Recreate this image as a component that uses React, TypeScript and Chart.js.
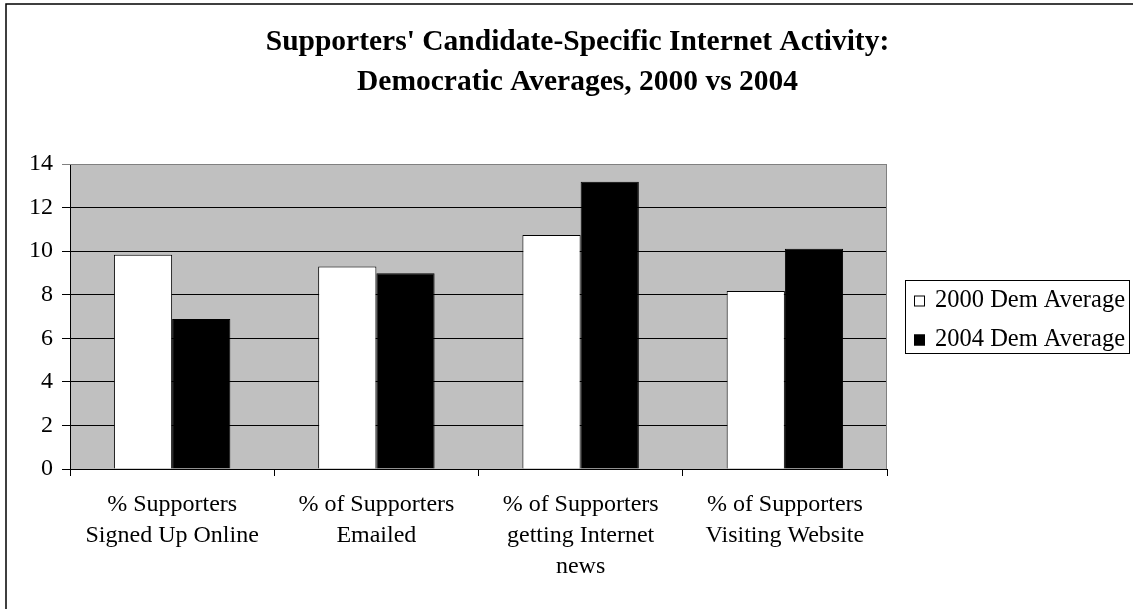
import React, { useEffect, useRef } from "react";
import { Chart, registerables } from "chart.js";

Chart.register(...registerables);

const titleLines = [
  "Supporters' Candidate-Specific Internet Activity:",
  "Democratic Averages, 2000 vs 2004",
];
const categories = [
  ["% Supporters", "Signed Up Online"],
  ["% of Supporters", "Emailed"],
  ["% of Supporters", "getting Internet", "news"],
  ["% of Supporters", "Visiting Website"],
];
const seriesLabels = ["2000 Dem Average", "2004 Dem Average"];
const dem2000 = [9.84, 9.29, 10.74, 8.17];
const dem2004 = [6.89, 8.98, 13.19, 10.11];
const yMin = 0;
const yMax = 14;
const yStep = 2;

const FONT = '"Liberation Serif", "Times New Roman", serif';
const seriesFill = ["#FFFFFF", "#000000"];

const decorPlugin = {
  id: "decor",
  afterLayout(chart: any) {
    const t = chart.titleBlock;
    if (t) {
      t.left = 22;
      t.right = chart.width;
    }
  },
  beforeDraw(chart: any) {
    const { ctx, chartArea: a } = chart;
    ctx.save();
    ctx.fillStyle = "#FFFFFF";
    ctx.fillRect(0, 0, chart.width, chart.height);
    ctx.fillStyle = "#C0C0C0";
    ctx.fillRect(a.left, a.top, a.right - a.left, a.bottom - a.top);
    ctx.strokeStyle = "#000000";
    ctx.lineWidth = 1.5;
    ctx.beginPath();
    ctx.moveTo(6, chart.height);
    ctx.lineTo(6, 4);
    ctx.lineTo(chart.width, 4);
    ctx.stroke();
    ctx.restore();
  },
  beforeDatasetsDraw(chart: any) {
    const { ctx, chartArea: a } = chart;
    ctx.save();
    ctx.strokeStyle = "#808080";
    ctx.lineWidth = 1;
    ctx.beginPath();
    ctx.moveTo(a.left, a.top + 0.5);
    ctx.lineTo(a.right - 0.5, a.top + 0.5);
    ctx.lineTo(a.right - 0.5, a.bottom);
    ctx.stroke();
    ctx.restore();
  },
  afterDraw(chart: any) {
    const { ctx, chartArea: a } = chart;
    const labels = chart.data.datasets.map((d: any) => d.label);
    const fills = chart.data.datasets.map((d: any) => d.backgroundColor);
    ctx.save();
    ctx.font = "24.5px " + FONT;
    const w = Math.max(...labels.map((l: string) => ctx.measureText(l).width));
    const left = a.right + 18;
    const boxW = 30 + w + 4;
    const boxH = 73;
    const cy = (a.top + a.bottom) / 2;
    const top = Math.round(cy - boxH / 2) + 0.5;
    ctx.fillStyle = "#FFFFFF";
    ctx.fillRect(left, top, boxW, boxH);
    ctx.strokeStyle = "#000000";
    ctx.lineWidth = 1;
    ctx.strokeRect(Math.round(left) + 0.5, top, Math.round(boxW), boxH);
    labels.forEach((l: string, i: number) => {
      const ry = top + 20 + i * 39;
      ctx.fillStyle = fills[i];
      ctx.fillRect(left + 9, ry - 5, 11, 11);
      ctx.strokeStyle = "#000000";
      ctx.strokeRect(left + 9.5, ry - 4.5, 10, 10);
      ctx.fillStyle = "#000000";
      ctx.textBaseline = "middle";
      ctx.textAlign = "left";
      ctx.fillText(l, left + 30, ry);
    });
    ctx.restore();
  },
};

export default function App() {
  const ref = useRef<HTMLCanvasElement | null>(null);
  useEffect(() => {
    if (!ref.current) return;
    const chart = new Chart(ref.current, {
      type: "bar",
      data: {
        labels: categories,
        datasets: [
          {
            label: seriesLabels[0],
            data: dem2000,
            backgroundColor: seriesFill[0],
            borderColor: "#000000",
            borderWidth: 1,
            categoryPercentage: 0.57,
            barPercentage: 1,
          },
          {
            label: seriesLabels[1],
            data: dem2004,
            backgroundColor: seriesFill[1],
            borderColor: "#000000",
            borderWidth: 1,
            categoryPercentage: 0.57,
            barPercentage: 1,
          },
        ],
      },
      options: {
        animation: false,
        responsive: false,
        devicePixelRatio: 1,
        layout: { padding: { left: 10, right: 246, top: 0, bottom: 0 } },
        plugins: {
          legend: { display: false },
          tooltip: { enabled: false },
          title: {
            display: true,
            text: titleLines,
            color: "#000000",
            font: { family: FONT, size: 29.5, weight: "bold", lineHeight: 40 / 29.5 },
            padding: { top: 22, bottom: 62 },
          },
        },
        scales: {
          x: {
            afterFit(scale: any) {
              scale.height = 140;
            },
            grid: {
              display: true,
              drawOnChartArea: false,
              drawTicks: true,
              tickLength: 7,
              color: "#000000",
              offset: true,
            },
            border: { display: true, color: "#000000", width: 1 },
            ticks: {
              color: "#000000",
              autoSkip: false,
              maxRotation: 0,
              minRotation: 0,
              padding: 13,
              font: { family: FONT, size: 24, lineHeight: 31 / 24 },
            },
          },
          y: {
            min: yMin,
            max: yMax,
            afterFit(scale: any) {
              scale.width = 60;
            },
            grid: {
              display: true,
              drawOnChartArea: true,
              drawTicks: true,
              tickLength: 8,
              color: (c: any) => (c.tick && c.tick.value === yMax ? "#808080" : "#000000"),
            },
            border: { display: true, color: "#000000", width: 1 },
            ticks: {
              stepSize: yStep,
              color: "#000000",
              padding: 9,
              font: { family: FONT, size: 24 },
            },
          },
        },
      },
      plugins: [decorPlugin],
    });
    return () => chart.destroy();
  }, []);
  return (
    <div style={{ position: "absolute", left: 0, top: 0, width: 1133, height: 609, background: "#fff" }}>
      <canvas ref={ref} width={1133} height={609} style={{ display: "block" }} />
    </div>
  );
}
